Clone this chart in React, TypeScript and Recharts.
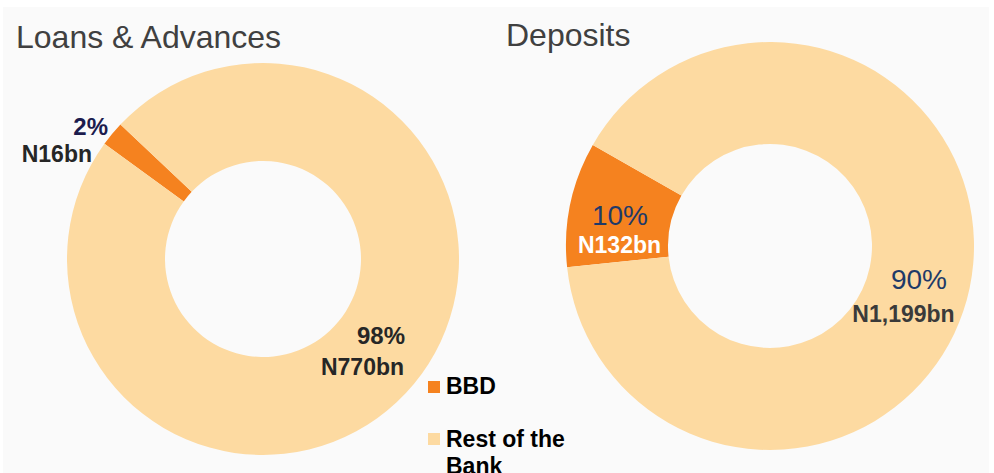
import React from 'react';
import { PieChart, Pie, Cell, Legend } from 'recharts';

const segments = ['BBD', 'Rest of the Bank'];
const loansValues = [16, 770];
const depositsValues = [132, 1199];
const loansPct = ['2%', '98%'];
const loansAmt = ['N16bn', 'N770bn'];
const depositsPct = ['10%', '90%'];
const depositsAmt = ['N132bn', 'N1,199bn'];
const titles = ['Loans & Advances', 'Deposits'];
const colors = ['#F5821F', '#FDDAA1'];

const loansData = segments.map((name, i) => ({ name, value: loansValues[i] }));
const depositsData = segments.map((name, i) => ({ name, value: depositsValues[i] }));

const FONT = '"Liberation Sans", Arial, sans-serif';

type LabelStyle = {
  pct: { dx: number; dy: number; anchor: string; fill: string; size: number; weight: string };
  amt: { dx: number; dy: number; anchor: string; fill: string; size: number; weight: string };
};

const loansLabelStyles: LabelStyle[] = [
  {
    pct: { dx: -155, dy: -124, anchor: 'end', fill: '#1C1C4E', size: 24, weight: 'bold' },
    amt: { dx: -171, dy: -97, anchor: 'end', fill: '#262626', size: 23, weight: 'bold' },
  },
  {
    pct: { dx: 118, dy: 85, anchor: 'middle', fill: '#262626', size: 24, weight: 'bold' },
    amt: { dx: 99.5, dy: 116, anchor: 'middle', fill: '#262626', size: 23, weight: 'bold' },
  },
];

const depositsLabelStyles: LabelStyle[] = [
  {
    pct: { dx: -150, dy: -21, anchor: 'middle', fill: '#1F3A68', size: 28, weight: 'normal' },
    amt: { dx: -150.5, dy: 7, anchor: 'middle', fill: '#FFFFFF', size: 23, weight: 'bold' },
  },
  {
    pct: { dx: 149, dy: 43, anchor: 'middle', fill: '#1F3A68', size: 28, weight: 'normal' },
    amt: { dx: 133.5, dy: 76, anchor: 'middle', fill: '#3A3A3A', size: 23, weight: 'bold' },
  },
];

const makeLabel = (pcts: string[], amts: string[], styles: LabelStyle[]) => (props: any) => {
  const { cx, cy, index } = props;
  const s = styles[index];
  return (
    <g key={`lbl-${index}`}>
      <text
        x={cx + s.pct.dx}
        y={cy + s.pct.dy}
        textAnchor={s.pct.anchor as any}
        fill={s.pct.fill}
        fontSize={s.pct.size}
        fontWeight={s.pct.weight}
        fontFamily={FONT}
      >
        {pcts[index]}
      </text>
      <text
        x={cx + s.amt.dx}
        y={cy + s.amt.dy}
        textAnchor={s.amt.anchor as any}
        fill={s.amt.fill}
        fontSize={s.amt.size}
        fontWeight={s.amt.weight}
        fontFamily={FONT}
      >
        {amts[index]}
      </text>
    </g>
  );
};

const LegendContent = () => (
  <svg width={170} height={110} style={{ display: 'block', overflow: 'visible' }}>
    <rect x={8} y={11} width={12} height={12} fill={colors[0]} />
    <text x={26} y={24} fontFamily={FONT} fontSize={23} fontWeight="bold" fill="#000">
      {segments[0]}
    </text>
    <rect x={8} y={63} width={12} height={12} fill={colors[1]} />
    <text x={26} y={77} fontFamily={FONT} fontSize={23} fontWeight="bold" fill="#000">
      <tspan x={26} y={77}>Rest of the</tspan>
      <tspan x={26} y={104}>Bank</tspan>
    </text>
  </svg>
);

export default function App() {
  return (
    <div
      style={{
        position: 'absolute',
        left: 0,
        top: 0,
        width: 994,
        height: 473,
        background: '#FFFFFF',
        overflow: 'hidden',
        fontFamily: FONT,
      }}
    >
      <div
        style={{
          position: 'absolute',
          left: 3,
          top: 7,
          width: 986,
          height: 466,
          background: '#FAFAFA',
        }}
      />
      <div style={{ position: 'absolute', left: 0, top: 0 }}>
        <PieChart width={994} height={473} margin={{ top: 0, right: 0, bottom: 0, left: 0 }}>
          <Pie
            data={loansData}
            dataKey="value"
            nameKey="name"
            cx={263}
            cy={259}
            innerRadius={98}
            outerRadius={196}
            startAngle={144}
            endAngle={-216}
            stroke="none"
            labelLine={false}
            label={makeLabel(loansPct, loansAmt, loansLabelStyles)}
            isAnimationActive={false}
          >
            {loansData.map((d, i) => (
              <Cell key={`l-${i}`} fill={colors[i]} />
            ))}
          </Pie>
          <Pie
            data={depositsData}
            dataKey="value"
            nameKey="name"
            cx={770}
            cy={246}
            innerRadius={102}
            outerRadius={204}
            startAngle={186}
            endAngle={-174}
            stroke="none"
            labelLine={false}
            label={makeLabel(depositsPct, depositsAmt, depositsLabelStyles)}
            isAnimationActive={false}
          >
            {depositsData.map((d, i) => (
              <Cell key={`d-${i}`} fill={colors[i]} />
            ))}
          </Pie>
          <Legend
            content={<LegendContent />}
            wrapperStyle={{ position: 'absolute', left: 420, top: 370, width: 170, height: 110 }}
          />
        </PieChart>
      </div>
      <svg
        width={994}
        height={473}
        style={{ position: 'absolute', left: 0, top: 0, pointerEvents: 'none' }}
      >
        <text x={16} y={48} fontFamily={FONT} fontSize={32} fill="#404040">
          {titles[0]}
        </text>
        <text x={506} y={46} fontFamily={FONT} fontSize={32} fill="#404040">
          {titles[1]}
        </text>
      </svg>
    </div>
  );
}
